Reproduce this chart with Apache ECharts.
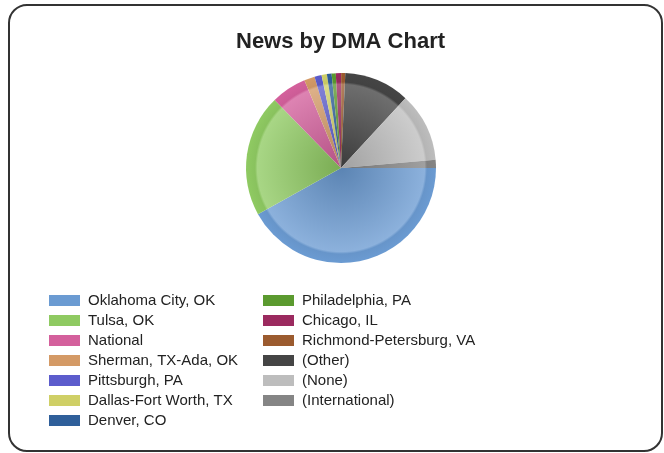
<!DOCTYPE html>
<html>
<head>
<meta charset="utf-8">
<script src="https://cdn.jsdelivr.net/npm/echarts@6/dist/echarts.min.js"></script>
<style>
html,body{margin:0;padding:0;background:#fff;}
#c{width:664px;height:453px;}
</style>
</head>
<body>
<div id="c"></div>
<script>
var categories = ["Oklahoma City, OK","Tulsa, OK","National","Sherman, TX-Ada, OK","Pittsburgh, PA","Dallas-Fort Worth, TX","Denver, CO","Philadelphia, PA","Chicago, IL","Richmond-Petersburg, VA","(Other)","(None)","(International)"];
var values = [418, 207, 60, 18, 12, 9, 8, 7, 9, 7, 111, 117, 14];
var colors = ["#6b9bd2","#8fca62","#d4609c","#d49a66","#5c5ccc","#cfcf66","#2f5f9a","#5b9a2f","#9b2a5f","#9b5b2f","#454545","#bdbdbd","#858585"];

function mix(hex, t, target) {
  var r = parseInt(hex.substr(1,2),16), g = parseInt(hex.substr(3,2),16), b = parseInt(hex.substr(5,2),16);
  r = Math.round(r + (target - r) * t);
  g = Math.round(g + (target - g) * t);
  b = Math.round(b + (target - b) * t);
  return 'rgb(' + r + ',' + g + ',' + b + ')';
}

var cx = 341, cy = 168, R = 95;
var chart = echarts.init(document.getElementById('c'));

var pieData = categories.map(function (name, i) {
  var base = colors[i];
  return {
    name: name,
    value: values[i],
    itemStyle: {
      color: new echarts.graphic.RadialGradient(cx, cy, R, [
        {offset: 0, color: mix(base, 0.15, 0)},
        {offset: 0.88, color: mix(base, 0.22, 255)},
        {offset: 0.905, color: mix(base, 0.04, 0)},
        {offset: 1, color: base}
      ], true)
    }
  };
});

function legendData(from, to) {
  var arr = [];
  for (var i = from; i < to; i++) {
    arr.push({name: categories[i], itemStyle: {color: colors[i]}});
  }
  return arr;
}

var legendCommon = {
  orient: 'vertical',
  top: 293,
  padding: 0,
  itemWidth: 31,
  itemHeight: 11,
  itemGap: 5,
  icon: 'rect',
  selectedMode: false,
  textStyle: {
    fontFamily: 'Liberation Sans, Arial, sans-serif',
    fontSize: 15,
    lineHeight: 15,
    color: '#222',
    padding: [0, 0, 0, 3]
  }
};

chart.setOption({
  animation: false,
  title: {
    text: 'News by DMA Chart',
    left: 236,
    top: 31,
    padding: 0,
    textStyle: {
      fontFamily: 'Liberation Sans, Arial, sans-serif',
      fontSize: 22,
      fontWeight: 'bold',
      color: '#222'
    }
  },
  graphic: [{
    type: 'rect',
    shape: {x: 9, y: 5, width: 653, height: 446, r: 18},
    style: {fill: 'none', stroke: '#333', lineWidth: 2},
    silent: true
  }],
  legend: [
    Object.assign({}, legendCommon, {left: 49, data: legendData(0, 7)}),
    Object.assign({}, legendCommon, {left: 263, data: legendData(7, 13)})
  ],
  series: [{
    type: 'pie',
    center: [cx, cy],
    radius: [0, R],
    startAngle: 0,
    clockwise: true,
    label: {show: false},
    labelLine: {show: false},
    emphasis: {disabled: true},
    itemStyle: {borderWidth: 0},
    data: pieData
  }]
});
</script>
</body>
</html>
